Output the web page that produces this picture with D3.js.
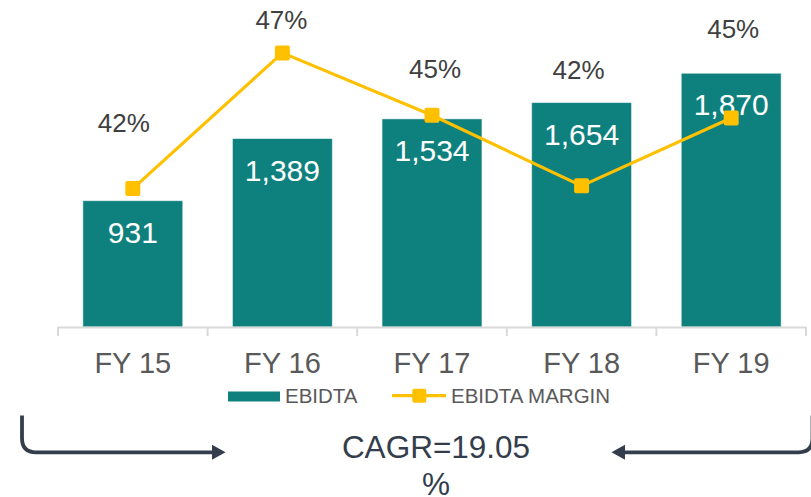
<!DOCTYPE html>
<html>
<head>
<meta charset="utf-8">
<script src="https://cdn.jsdelivr.net/npm/d3@7/dist/d3.min.js"></script>
<style>
  html, body { margin: 0; padding: 0; background: #ffffff; }
  svg { display: block; font-family: "Liberation Sans", Arial, sans-serif; }
</style>
</head>
<body>
<svg id="chart" width="811" height="497"></svg>
<script>
// EBIDTA (bars) and EBIDTA margin (line), FY15–FY19
const categories = ["FY 15", "FY 16", "FY 17", "FY 18", "FY 19"];
const ebidta = [931, 1389, 1534, 1654, 1870];
const ebidtaMargin = [0.421, 0.471, 0.448, 0.422, 0.447];
const legendLabels = ["EBIDTA", "EBIDTA MARGIN"];
const cagrLines = ["CAGR=19.05", "%"];

// hand-placed offsets of the margin labels (dx, lift above marker)
const marginLabelDx = [-9, -1, 3, -3, 2];
const marginLabelLift = [57, 24, 37, 107, 80];

const BAR = "#0e817e", LINE = "#ffc000", ARROW = "#333d4b";
const svg = d3.select("#chart");

const x = d3.scaleBand()
  .domain(categories)
  .range([58, 806])
  .paddingInner(0.332)
  .paddingOuter(0.166);

const y = d3.scaleLinear().domain([0, 2000]).range([327, 55.6]);
const y2 = d3.scaleLinear().domain([0.37, 0.47]).range([327, 55.6]);

const cx = d => x(d) + x.bandwidth() / 2;
const step = x.step();

// bars
svg.append("g").selectAll("rect")
  .data(categories)
  .join("rect")
  .attr("x", d => x(d))
  .attr("y", (d, i) => y(ebidta[i]))
  .attr("width", x.bandwidth())
  .attr("height", (d, i) => y(0) - y(ebidta[i]))
  .attr("fill", BAR)
  .attr("stroke", "rgba(255,255,255,0.55)")
  .attr("stroke-width", 1);

// bar value labels
const fmtInt = d3.format(",");
svg.append("g").selectAll("text")
  .data(categories)
  .join("text")
  .attr("x", d => cx(d))
  .attr("y", (d, i) => y(ebidta[i]) + 42)
  .attr("text-anchor", "middle")
  .attr("fill", "#ffffff")
  .attr("font-size", 30)
  .text((d, i) => fmtInt(ebidta[i]));

// category axis: ticks sit on band boundaries
const axisG = svg.append("g").attr("transform", `translate(0,${y(0)})`);
axisG.call(d3.axisBottom(x).tickSize(0).tickPadding(0));
axisG.select(".domain").remove();
axisG.selectAll(".tick text")
  .attr("y", 46)
  .attr("dy", 0)
  .attr("fill", "#595959")
  .attr("font-size", 29)
  .attr("font-family", "Liberation Sans, Arial, sans-serif");
const [r0, r1] = x.range();
axisG.append("line")
  .attr("x1", r0).attr("x2", r1).attr("y1", 0.5).attr("y2", 0.5)
  .attr("stroke", "#d9d9d9").attr("stroke-width", 2);
const bounds = d3.range(categories.length + 1).map(i => r0 + i * step);
axisG.selectAll(".bound")
  .data(bounds)
  .join("line")
  .attr("class", "bound")
  .attr("x1", d => d).attr("x2", d => d)
  .attr("y1", 0).attr("y2", 9)
  .attr("stroke", "#d9d9d9").attr("stroke-width", 2);

// margin line + markers
const line = d3.line()
  .x((d, i) => cx(categories[i]))
  .y(d => y2(d));
svg.append("path")
  .datum(ebidtaMargin)
  .attr("d", line)
  .attr("fill", "none")
  .attr("stroke", LINE)
  .attr("stroke-width", 3.2)
  .attr("stroke-linejoin", "round");

const MK = 15;
svg.append("g").selectAll("rect")
  .data(ebidtaMargin)
  .join("rect")
  .attr("x", (d, i) => cx(categories[i]) - MK / 2)
  .attr("y", d => y2(d) - MK / 2)
  .attr("width", MK).attr("height", MK)
  .attr("rx", 2)
  .attr("fill", LINE);

// margin labels
const fmtPct = d3.format(".0%");
svg.append("g").selectAll("text")
  .data(ebidtaMargin)
  .join("text")
  .attr("x", (d, i) => cx(categories[i]) + marginLabelDx[i])
  .attr("y", (d, i) => y2(d) - marginLabelLift[i])
  .attr("text-anchor", "middle")
  .attr("fill", "#404040")
  .attr("font-size", 26)
  .text(d => fmtPct(d));

// legend
const lg = svg.append("g");
lg.append("rect")
  .attr("x", 228).attr("y", 391.5).attr("width", 52).attr("height", 10)
  .attr("fill", BAR);
lg.append("text")
  .attr("x", 285).attr("y", 402.5)
  .attr("fill", "#595959").attr("font-size", 20.5)
  .text(legendLabels[0]);
lg.append("line")
  .attr("x1", 392).attr("x2", 446).attr("y1", 395.7).attr("y2", 395.7)
  .attr("stroke", LINE).attr("stroke-width", 3.2);
lg.append("rect")
  .attr("x", 419.3 - 7).attr("y", 395.7 - 7).attr("width", 14).attr("height", 14)
  .attr("rx", 2).attr("fill", LINE);
lg.append("text")
  .attr("x", 451).attr("y", 402.5)
  .attr("fill", "#595959").attr("font-size", 20.5)
  .text(legendLabels[1]);

// CAGR note with bracket arrows
const AY = 452.3, rad = 14;
const arrows = svg.append("g")
  .attr("fill", "none").attr("stroke", ARROW).attr("stroke-width", 3.8);
arrows.append("path")
  .attr("d", `M22,415.5 V${AY - rad} Q22,${AY} ${22 + rad},${AY} H215`);
arrows.append("path")
  .attr("d", `M812.5,415.5 V${AY - rad} Q812.5,${AY} ${812.5 - rad},${AY} H622`);
svg.append("path")
  .attr("d", `M212,${AY - 7.5} L225.5,${AY} L212,${AY + 7.5} Z`)
  .attr("fill", ARROW);
svg.append("path")
  .attr("d", `M625,${AY - 7.5} L611.5,${AY} L625,${AY + 7.5} Z`)
  .attr("fill", ARROW);

svg.append("g").selectAll("text")
  .data(cagrLines)
  .join("text")
  .attr("x", 436)
  .attr("y", (d, i) => 458 + i * 36.5)
  .attr("text-anchor", "middle")
  .attr("fill", ARROW)
  .attr("font-size", 31.5)
  .text(d => d);
</script>
</body>
</html>
